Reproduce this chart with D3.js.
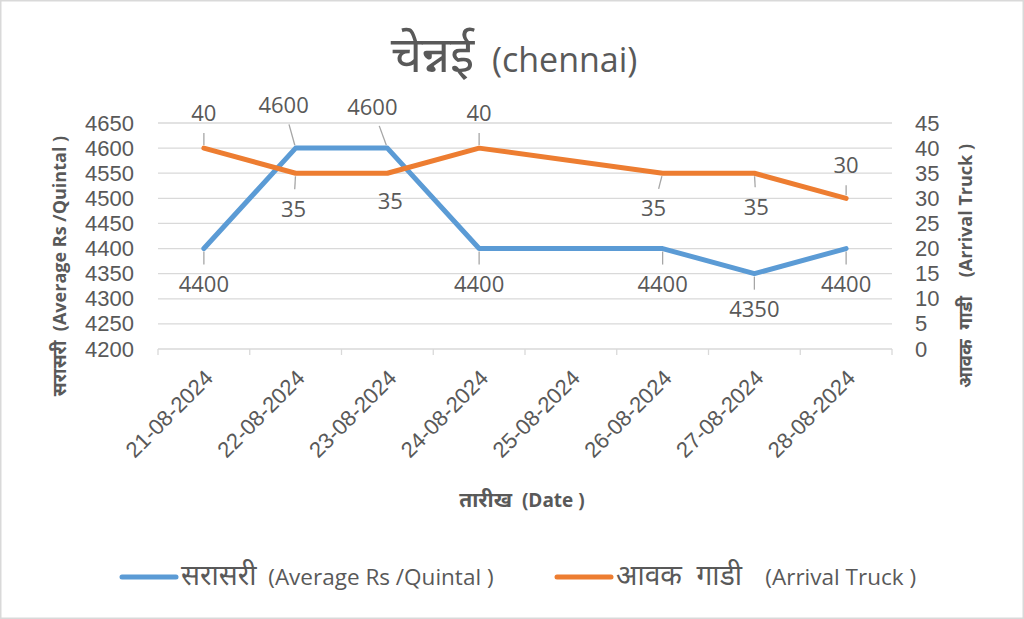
<!DOCTYPE html>
<html>
<head>
<meta charset="utf-8">
<script src="https://cdn.jsdelivr.net/npm/d3@7/dist/d3.min.js"></script>
<style>
  body { margin: 0; background: #fff; }
  svg { font-family: "Open Sans", "Noto Sans", sans-serif; }
  text { white-space: pre; }
</style>
</head>
<body>
<div id="chart"></div>
<script>
/* Daten */
var dates = ["21-08-2024","22-08-2024","23-08-2024","24-08-2024","25-08-2024","26-08-2024","27-08-2024","28-08-2024"];
var avgPrice = [4400, 4600, 4600, 4400, null, 4400, 4350, 4400];
var arrivals = [40, 35, 35, 40, null, 35, 35, 30];
var leftTicks = [4200,4250,4300,4350,4400,4450,4500,4550,4600,4650];
var rightTicks = [0,5,10,15,20,25,30,35,40,45];

/* Beschriftungs-Versatz (dx, dy) pro Punkt */
var priceLabelOffset = [[0,36],[-12,-43],[-15,-41],[0,36],null,[0,36],[0,36],[0,36]];
var arrivalLabelOffset = [[0,-35],[-2,36],[3,28],[0,-35],null,[-9,35],[2,34],[0,-33]];

var W = 1024, H = 619;
var margin = {left: 158, right: 132, top: 123, bottom: 270};
var blue = "#5b9bd5", orange = "#ed7d31", grey = "#595959", grid = "#d9d9d9";

var svg = d3.select("#chart").append("svg").attr("width", W).attr("height", H);
svg.append("rect").attr("x",0.75).attr("y",0.75).attr("width",W-1.5).attr("height",H-1.5)
  .attr("fill","#fff").attr("stroke","#d9d9d9").attr("stroke-width",1.5);

var x = d3.scaleBand().domain(dates).range([margin.left, W - margin.right]);
var yL = d3.scaleLinear().domain([4200,4650]).range([H - margin.bottom, margin.top]);
var yR = d3.scaleLinear().domain([0,45]).range([H - margin.bottom, margin.top]);

/* Text mit Devanagari-Teil (etwas größer) und lateinischem Teil */
function mixedText(sel, deva, latin, size, devaScale) {
  sel.attr("font-size", size + "px").attr("fill", grey).attr("xml:space","preserve");
  sel.append("tspan").attr("font-size", (size * devaScale) + "px").text(deva);
  sel.append("tspan").text(latin);
  return sel;
}

/* Titel */
mixedText(svg.append("text").attr("x", 514).attr("y", 72).attr("text-anchor","middle"),
  "चेन्नई", "  (chennai)", 34, 1.45);

/* Gitter */
svg.append("g").selectAll("line").data(leftTicks).enter().append("line")
  .attr("x1", margin.left).attr("x2", W - margin.right)
  .attr("y1", function(d){return yL(d);}).attr("y2", function(d){return yL(d);})
  .attr("stroke", grid).attr("stroke-width", 1.3);

/* Achsen */
var axL = svg.append("g").attr("transform","translate(" + (margin.left - 24) + ",0)")
  .call(d3.axisLeft(yL).tickValues(leftTicks).tickFormat(d3.format("d")).tickSize(0).tickPadding(0));
var axR = svg.append("g").attr("transform","translate(" + (W - margin.right + 23) + ",0)")
  .call(d3.axisRight(yR).tickValues(rightTicks).tickFormat(d3.format("d")).tickSize(0).tickPadding(0));
[axL, axR].forEach(function(a){
  a.select(".domain").remove();
  a.selectAll("text").attr("font-size","22px").attr("fill",grey).attr("font-family",null);
});

var bandEdges = dates.map(function(d){return x(d);}).concat([x.range()[1]]);
svg.append("g").selectAll("line").data(bandEdges).enter().append("line")
  .attr("x1", function(d){return d;}).attr("x2", function(d){return d;})
  .attr("y1", yL(4200)).attr("y2", yL(4200) + 6).attr("stroke", grid).attr("stroke-width",1.3);

var axB = svg.append("g").attr("transform","translate(0," + (yL(4200) + 25) + ")")
  .call(d3.axisBottom(x).tickSize(0).tickPadding(0));
axB.select(".domain").remove();
axB.selectAll("text").attr("font-size","22px").attr("fill",grey).attr("font-family",null)
  .attr("text-anchor","end").attr("dy","0.35em")
  .attr("transform","translate(5,0) rotate(-45)");

/* Achsentitel */
mixedText(svg.append("text").attr("transform","translate(66,266) rotate(-90)").attr("text-anchor","middle")
  .attr("font-weight","bold"), "सरासरी", "  (Average Rs /Quintal )", 18, 1.05);
mixedText(svg.append("text").attr("transform","translate(972,266) rotate(-90)").attr("text-anchor","middle")
  .attr("font-weight","bold"), "आवक  गाडी", "    (Arrival Truck )", 18, 1.05);
mixedText(svg.append("text").attr("x",522).attr("y",507).attr("text-anchor","middle")
  .attr("font-weight","bold"), "तारीख", "  (Date )", 19, 1.1);

/* Linien */
function drawSeries(values, scale, color, offsets) {
  var pts = dates.map(function(d,i){return {cx: x(d) + x.bandwidth()/2, v: values[i], o: offsets[i]};})
    .filter(function(p){return p.v !== null;});
  var line = d3.line().x(function(p){return p.cx;}).y(function(p){return scale(p.v);});
  svg.append("path").datum(pts).attr("d", line).attr("fill","none").attr("stroke",color)
    .attr("stroke-width",5).attr("stroke-linejoin","round").attr("stroke-linecap","round");
  var g = svg.append("g");
  pts.forEach(function(p){
    var px = p.cx, py = scale(p.v);
    var lx = px + p.o[0], ly = py + p.o[1];
    var dist = Math.sqrt(p.o[0]*p.o[0] + p.o[1]*p.o[1]);
    if (dist > 30) {
      var ux = p.o[0]/dist, uy = p.o[1]/dist;
      g.append("line").attr("x1", px + ux*3).attr("y1", py + uy*3)
        .attr("x2", lx - ux*20).attr("y2", ly - uy*20)
        .attr("stroke","#a6a6a6").attr("stroke-width",1.3);
    }
    g.append("text").attr("x", lx).attr("y", ly).attr("dy","0.35em").attr("text-anchor","middle")
      .attr("font-size","22px").attr("fill",grey).text(p.v);
  });
}
drawSeries(avgPrice, yL, blue, priceLabelOffset);
drawSeries(arrivals, yR, orange, arrivalLabelOffset);

/* Legende */
var legend = [
  {deva: "सरासरी", latin: "  (Average Rs /Quintal )", color: blue, x: 120},
  {deva: "आवक  गाडी", latin: "    (Arrival Truck )", color: orange, x: 555}
];
legend.forEach(function(l){
  svg.append("line").attr("x1", l.x + 2).attr("x2", l.x + 56).attr("y1", 577).attr("y2", 577)
    .attr("stroke", l.color).attr("stroke-width",5).attr("stroke-linecap","round");
  mixedText(svg.append("text").attr("x", l.x + 61).attr("y", 585), l.deva, l.latin, 22.5, 1.25);
});
</script>
</body>
</html>
